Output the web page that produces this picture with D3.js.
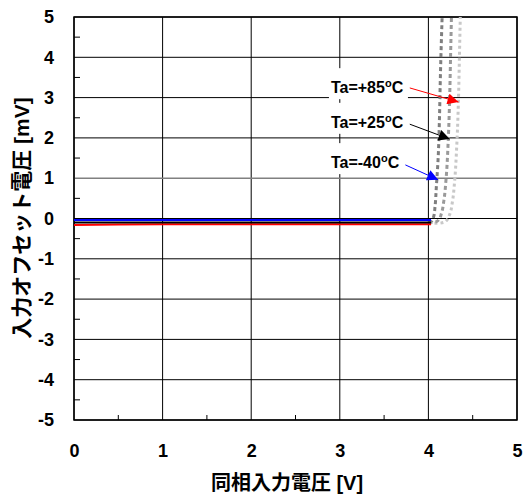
<!DOCTYPE html>
<html>
<head>
<meta charset="utf-8">
<script src="https://cdn.jsdelivr.net/npm/d3@7"></script>
<style>
html, body { margin: 0; padding: 0; background: #fff; }
svg { display: block; }
text { font-family: "Liberation Sans", Arial, "Noto Sans CJK JP", sans-serif; font-weight: bold; }
</style>
</head>
<body>
<svg id="chart" width="525" height="495"></svg>
<script>
// ---- data ----
const xTicks = [0, 1, 2, 3, 4, 5];
const yTicks = [-5, -4, -3, -2, -1, 0, 1, 2, 3, 4, 5];
const xMinor = [0.5, 1.5, 2.5, 3.5, 4.5];
const yMinor = [-4.5, -3.5, -2.5, -1.5, -0.5, 0.5, 1.5, 2.5, 3.5, 4.5];
const xTitle = "同相入力電圧 [V]";
const yTitle = "入力オフセット電圧 [mV]";

// flat section (solid lines)
const solidV = [0, 0.5, 1, 1.5, 2, 2.5, 3, 3.5, 4.0, 4.03];
const solidM40 = [-0.04, -0.04, -0.04, -0.04, -0.04, -0.04, -0.04, -0.04, -0.04, -0.04];
const solidP25 = [-0.10, -0.10, -0.10, -0.10, -0.10, -0.10, -0.10, -0.10, -0.10, -0.10];
const solidP85 = [-0.16, -0.15, -0.14, -0.14, -0.14, -0.14, -0.14, -0.14, -0.14, -0.14];

// rising section (dotted curves)
const riseM40V = [4.00, 4.04, 4.06, 4.075, 4.09, 4.11, 4.125, 4.135, 4.145, 4.155];
const riseM40  = [-0.08, -0.06, 0.05, 0.3, 0.8, 1.5, 2.5, 3.5, 4.3, 5.0];
const riseP25V = [4.00, 4.08, 4.12, 4.15, 4.175, 4.20, 4.225, 4.24, 4.25, 4.26];
const riseP25  = [-0.10, -0.09, -0.02, 0.15, 0.45, 1.0, 2.0, 3.0, 4.0, 5.0];
const riseP85V = [4.00, 4.12, 4.19, 4.24, 4.27, 4.295, 4.32, 4.34, 4.35, 4.36];
const riseP85  = [-0.12, -0.12, -0.08, 0.1, 0.4, 0.9, 1.8, 3.0, 4.0, 5.0];

const labels = ["Ta=+85", "Ta=+25", "Ta=-40"];
const labelV = [2.9, 2.9, 2.9];
const labelMV = [3.11, 2.25, 1.25];
const arrowFromV = [3.79, 3.79, 3.74];
const arrowFromMV = [3.24, 2.34, 1.33];
const arrowToV = [4.34, 4.24, 4.11];
const arrowToMV = [2.89, 1.97, 0.96];
const arrowColors = ["#ff0000", "#000000", "#0000ff"];

// ---- layout ----
const svg = d3.select("#chart");
const L = 74, R = 517, T = 17, B = 420;
const x = d3.scaleLinear().domain([0, 5]).range([L, R]);
const y = d3.scaleLinear().domain([-5, 5]).range([B, T]);

// grid
const g = svg.append("g");
g.selectAll(".vg").data(xTicks).join("line")
  .attr("x1", d => x(d)).attr("x2", d => x(d)).attr("y1", T).attr("y2", B)
  .attr("stroke", "#000").attr("stroke-width", 1);
g.selectAll(".hg").data(yTicks).join("line")
  .attr("x1", L).attr("x2", R).attr("y1", d => y(d)).attr("y2", d => y(d))
  .attr("stroke", d => d === 1 ? "#808080" : "#000").attr("stroke-width", d => d === 1 ? 1.5 : 1);

// minor ticks
g.selectAll(".xm").data(xMinor).join("line")
  .attr("x1", d => x(d)).attr("x2", d => x(d)).attr("y1", B).attr("y2", B - 5)
  .attr("stroke", "#000").attr("stroke-width", 1);
g.selectAll(".ym").data(yMinor).join("line")
  .attr("x1", L).attr("x2", L + 6).attr("y1", d => y(d)).attr("y2", d => y(d))
  .attr("stroke", "#000").attr("stroke-width", 1);

// frame
svg.append("rect").attr("x", L).attr("y", T).attr("width", R - L).attr("height", B - T)
  .attr("fill", "none").attr("stroke", "#000").attr("stroke-width", 1.5);

// tick labels via axes
const fmt = d => String(d);
const xAxis = svg.append("g").attr("transform", `translate(0,${B})`)
  .call(d3.axisBottom(x).tickValues(xTicks).tickSize(0).tickPadding(24).tickFormat(fmt));
xAxis.select(".domain").remove();
xAxis.selectAll("text").attr("font-size", 18).attr("fill", "#000")
  .style("font-family", '"Liberation Sans", Arial, sans-serif');

const yAxis = svg.append("g").attr("transform", `translate(${L},0)`)
  .call(d3.axisLeft(y).tickValues(yTicks).tickSize(0).tickPadding(20).tickFormat(fmt));
yAxis.select(".domain").remove();
yAxis.selectAll("text").attr("font-size", 18).attr("fill", "#000")
  .style("font-family", '"Liberation Sans", Arial, sans-serif');

// titles
svg.append("text").attr("x", 287).attr("y", 490).attr("text-anchor", "middle")
  .attr("font-size", 20).attr("fill", "#000").text(xTitle);
svg.append("text").attr("transform", "translate(29,218) rotate(-90)").attr("text-anchor", "middle")
  .attr("font-size", 21).attr("fill", "#000").text(yTitle);

// label boxes (white)
const lab = svg.append("g");
labels.forEach((t, i) => {
  const bx = x(labelV[i]) - 2, by = y(labelMV[i]);
  lab.append("rect").attr("x", bx).attr("y", by - 25).attr("width", 79).attr("height", 31).attr("fill", "#fff");
});

// curves
const line = d3.line().x(d => x(d[0])).y(d => y(d[1]));
const curveLine = d3.line().x(d => x(d[0])).y(d => y(d[1])).curve(d3.curveMonotoneY);
const zip = (a, b) => a.map((v, i) => [v, b[i]]);

svg.append("path").datum(zip(riseP85V, riseP85)).attr("d", curveLine)
  .attr("fill", "none").attr("stroke", "#c8c8c8").attr("stroke-width", 3).attr("stroke-dasharray", "3,3");
svg.append("path").datum(zip(riseP25V, riseP25)).attr("d", curveLine)
  .attr("fill", "none").attr("stroke", "#9a9a9a").attr("stroke-width", 3).attr("stroke-dasharray", "4,3");
svg.append("path").datum(zip(riseM40V, riseM40)).attr("d", curveLine)
  .attr("fill", "none").attr("stroke", "#7f7f7f").attr("stroke-width", 3).attr("stroke-dasharray", "4,3");

svg.append("path").datum(zip(solidV, solidP85)).attr("d", line)
  .attr("fill", "none").attr("stroke", "#ff0000").attr("stroke-width", 2);
svg.append("path").datum(zip(solidV, solidP25)).attr("d", line)
  .attr("fill", "none").attr("stroke", "#000000").attr("stroke-width", 2);
svg.append("path").datum(zip(solidV, solidM40)).attr("d", line)
  .attr("fill", "none").attr("stroke", "#0000ff").attr("stroke-width", 2);

// label texts
labels.forEach((t, i) => {
  const tx = svg.append("text").attr("x", x(labelV[i])).attr("y", y(labelMV[i]))
    .attr("font-size", 16).attr("fill", "#000");
  tx.append("tspan").text(t);
  tx.append("tspan").attr("dy", -6).attr("font-size", 11).text("o");
  tx.append("tspan").attr("dy", 6).text("C");
});

// arrows
const defs = svg.append("defs");
arrowColors.forEach((c, i) => {
  defs.append("marker").attr("id", "ah" + i).attr("viewBox", "0 0 10 10")
    .attr("refX", 10).attr("refY", 5).attr("markerWidth", 13).attr("markerHeight", 11)
    .attr("markerUnits", "userSpaceOnUse").attr("orient", "auto")
    .append("path").attr("d", "M0,0 L10,5 L0,10 Z").attr("fill", c);
  svg.append("line")
    .attr("x1", x(arrowFromV[i])).attr("y1", y(arrowFromMV[i]))
    .attr("x2", x(arrowToV[i])).attr("y2", y(arrowToMV[i]))
    .attr("stroke", c).attr("stroke-width", 1).attr("marker-end", `url(#ah${i})`);
});
</script>
</body>
</html>
